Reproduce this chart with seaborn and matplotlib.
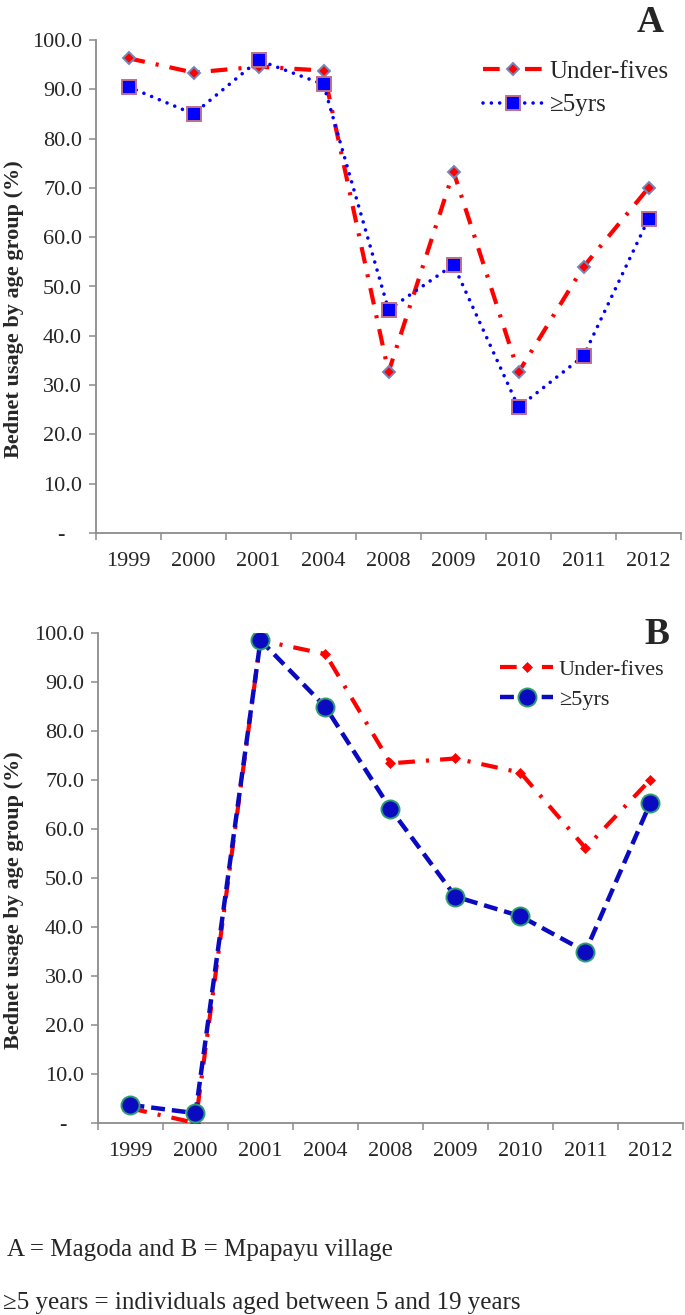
import numpy as np
import pandas as pd
import matplotlib
matplotlib.use("Agg")
import matplotlib.pyplot as plt
import seaborn as sns
from matplotlib.ticker import FixedLocator

# ---------------- data ----------------
years = ["1999", "2000", "2001", "2004", "2008", "2009", "2010", "2011", "2012"]
a_under5 = [96.3, 93.4, 94.6, 93.8, 32.6, 73.3, 32.6, 54.0, 70.0]
a_over5 = [90.5, 85.0, 95.9, 91.0, 45.3, 54.4, 25.5, 35.9, 63.7]
b_under5 = [3.0, 0.0, 98.5, 95.7, 73.4, 74.4, 71.5, 56.1, 70.1]
b_over5 = [3.7, 2.0, 98.5, 84.9, 64.1, 46.2, 42.2, 35.0, 65.4]
series_labels = ["Under-fives", "\u22655yrs"]
panel_letters = ["A", "B"]
y_ticks = [0, 10, 20, 30, 40, 50, 60, 70, 80, 90, 100]
y_label = "Bednet usage by age group (%)"
footnotes = ["A = Magoda and B = Mpapayu village",
             "\u22655 years = individuals aged between 5 and 19 years"]

# ---------------- style ----------------
sns.set_theme(style="ticks")
plt.rcParams["font.family"] = ["Liberation Serif", "DejaVu Serif"]
plt.rcParams["lines.scale_dashes"] = False
plt.rcParams["axes.unicode_minus"] = False
GREY = "#8c8c8c"

W, H = 685, 1315
fig = plt.figure(figsize=(W / 100, H / 100), dpi=100)


def rect(l, t, r, b):
    return [l / W, 1 - b / H, (r - l) / W, (b - t) / H]


axA = fig.add_axes(rect(96, 40, 681, 533))
axB = fig.add_axes(rect(98, 633, 683, 1123))

dfA = pd.DataFrame({"year": years, "u5": a_under5, "o5": a_over5})
dfB = pd.DataFrame({"year": years, "u5": b_under5, "o5": b_over5})

dashdot = (0, (12, 8, 2.2, 8))

# Panel A
sns.lineplot(data=dfA, x="year", y="u5", ax=axA, color="#ff0000", lw=3,
             linestyle=dashdot, marker="D", markersize=6.4,
             markerfacecolor="#ff0000", markeredgecolor="#7088bd",
             markeredgewidth=1.4, label=series_labels[0], zorder=3)
sns.lineplot(data=dfA, x="year", y="o5", ax=axA, color="#0000ff", lw=2.6,
             linestyle=(0, (0.01, 6)), dash_capstyle="round", marker="s",
             markersize=10.5, markerfacecolor="#0000ff",
             markeredgecolor="#c0708a", markeredgewidth=1.4,
             label=series_labels[1], zorder=4)

# Panel B
sns.lineplot(data=dfB, x="year", y="u5", ax=axB, color="#ff0000", lw=3,
             linestyle=dashdot, marker="D", markersize=5.6,
             markerfacecolor="#ff0000", markeredgecolor="#ff0000",
             markeredgewidth=0.5, label=series_labels[0], zorder=3)
sns.lineplot(data=dfB, x="year", y="o5", ax=axB, color="#0a0ac0", lw=3.2,
             linestyle=(0, (10, 5)), marker="o", markersize=13,
             markerfacecolor="#0a0ac0", markeredgecolor="#2e9e70",
             markeredgewidth=1.4, label=series_labels[1], zorder=4)

for ax, left, lfs, anchor in ((axA, 96, 18, (483, 60)), (axB, 98, 16, (500, 659))):
    ax.set_xlim(-0.5, len(years) - 0.5)
    ax.set_ylim(0, 100)
    ax.set_xticks(range(len(years)))
    ax.set_xticklabels(years, fontsize=16)
    ax.xaxis.set_minor_locator(FixedLocator(np.arange(-0.5, len(years), 1.0)))
    ax.set_yticks(y_ticks)
    ax.set_yticklabels(["-   "] + [f"{v:.1f}" for v in y_ticks[1:]], fontsize=16)
    ax.tick_params(axis="x", which="major", length=0, pad=14, bottom=True)
    ax.tick_params(axis="x", which="minor", length=5, width=1.1, color=GREY,
                   direction="out", bottom=True)
    ax.tick_params(axis="y", length=5, width=1.1, color=GREY, pad=5, left=True)
    for s in ("top", "right"):
        ax.spines[s].set_visible(False)
    for s in ("left", "bottom"):
        ax.spines[s].set_color(GREY)
        ax.spines[s].set_linewidth(1.3)
    ax.set_xlabel("")
    ax.set_ylabel(y_label, fontsize=16, fontweight="bold", va="center")
    ax.yaxis.set_label_coords((14 - left) / 585, 0.455)
    ax.legend(loc="upper left", bbox_to_anchor=(anchor[0] / W, 1 - anchor[1] / H),
              bbox_transform=fig.transFigure, frameon=False, fontsize=lfs,
              borderpad=0, borderaxespad=0, handlelength=2.4,
              handletextpad=0.25, labelspacing=0.45)

fig.text(650 / W, 1 - 23 / H, panel_letters[0], fontsize=27, fontweight="bold",
         ha="center", va="center")
fig.text(657 / W, 1 - 635 / H, panel_letters[1], fontsize=27, fontweight="bold",
         ha="center", va="center")

fig.text(7 / W, 1 - 1256 / H, footnotes[0], fontsize=18, ha="left", va="baseline")
fig.text(3 / W, 1 - 1309 / H, footnotes[1], fontsize=18, ha="left", va="baseline")

fig.savefig("out.png", dpi=100)
